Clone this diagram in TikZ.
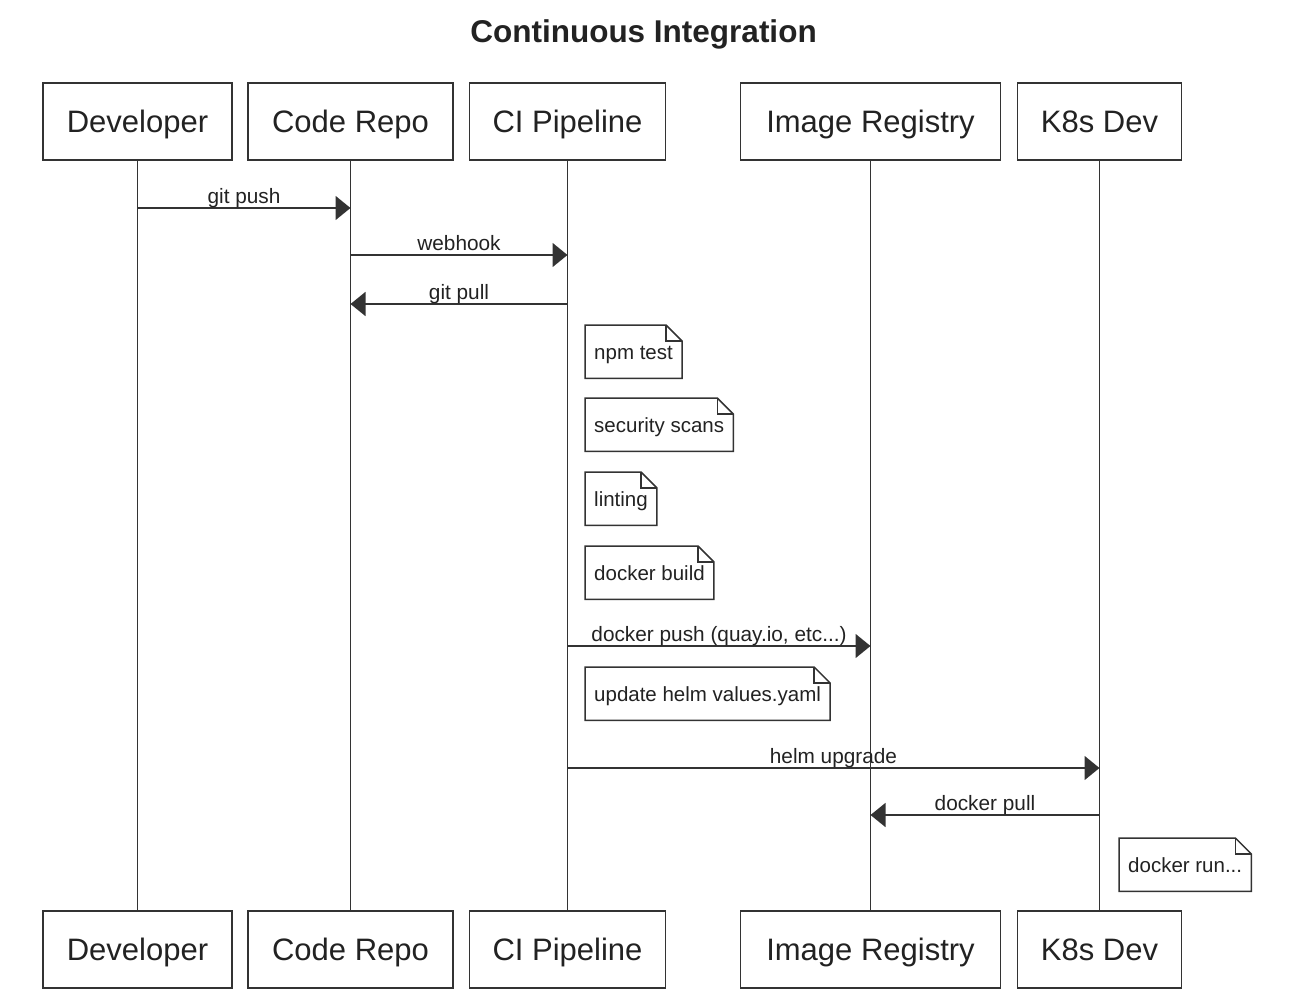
\documentclass[tikz,border=0pt]{standalone}
\usepackage{fontspec}
\setmainfont{Liberation Sans}
\usetikzlibrary{arrows.meta,calc}
\definecolor{ln}{HTML}{333333}
\definecolor{tx}{HTML}{222222}
\tikzset{
  actor/.style={draw=ln, line width=1.5pt, fill=white, minimum height=77pt, inner sep=0pt,
    font=\fontsize{31}{36}\selectfont, text=tx, text height=24pt, text depth=3pt},
  life/.style={draw=ln, line width=1.5pt},
  msg/.style={draw=ln, line width=1.5pt, -{Triangle[length=15pt,width=24pt]}},
  msglabel/.style={font=\fontsize{20.8}{24}\selectfont, text=tx, anchor=base, inner sep=0pt},
  notebox/.style={font=\fontsize{20.5}{24}\selectfont, text=tx, inner xsep=9pt, inner ysep=0pt,
    minimum height=53pt, text height=17pt, text depth=2pt, anchor=north west},
  noteline/.style={draw=ln, line width=1.5pt, line join=miter},
}
\newcommand{\mknote}[4]{%
  \node[notebox] (#1) at (#2,#3) {#4};
  \draw[noteline] (#1.north west) -- ($(#1.north east)+(-16,0)$) -- ($(#1.north east)+(0,16)$)
    -- (#1.south east) -- (#1.south west) -- cycle;
  \draw[noteline] ($(#1.north east)+(-16,0)$) -- ($(#1.north east)+(-16,16)$) -- ($(#1.north east)+(0,16)$);
}
\begin{document}
\begin{tikzpicture}[x=1pt,y=-1pt]
\useasboundingbox (0,0) rectangle (1290,1006);

\node[font=\bfseries\fontsize{31.5}{36}\selectfont, text=tx, anchor=base, inner sep=0pt] (title) at (643.5,43) {Continuous Integration};

% heads
\node[actor, minimum width=189pt] (devH) at (137.5,121.5) {Developer};
\node[actor, minimum width=205pt] (repoH) at (350.5,121.5) {Code Repo};
\node[actor, minimum width=196pt] (ciH) at (567.5,121.5) {CI Pipeline};
\node[actor, minimum width=260pt] (regH) at (870.5,121.5) {Image Registry};
\node[actor, minimum width=164pt] (k8sH) at (1099.5,121.5) {K8s Dev};
% feet
\node[actor, minimum width=189pt] (devF) at (137.5,949.5) {Developer};
\node[actor, minimum width=205pt] (repoF) at (350.5,949.5) {Code Repo};
\node[actor, minimum width=196pt] (ciF) at (567.5,949.5) {CI Pipeline};
\node[actor, minimum width=260pt] (regF) at (870.5,949.5) {Image Registry};
\node[actor, minimum width=164pt] (k8sF) at (1099.5,949.5) {K8s Dev};

% lifelines
\draw[life] (devH.south) -- (devF.north);
\draw[life] (repoH.south) -- (repoF.north);
\draw[life] (ciH.south) -- (ciF.north);
\draw[life] (regH.south) -- (regF.north);
\draw[life] (k8sH.south) -- (k8sF.north);

% messages
\coordinate (m1a) at (devH |- 0,208);  \coordinate (m1b) at (repoH |- 0,208);
\draw[msg] (m1a) -- (m1b) node[msglabel, pos=0.5, yshift=5pt] (l1) {git push};

\coordinate (m2a) at (repoH |- 0,255); \coordinate (m2b) at (ciH |- 0,255);
\draw[msg] (m2a) -- (m2b) node[msglabel, pos=0.5, yshift=5pt] (l2) {webhook};

\coordinate (m3a) at (ciH |- 0,304); \coordinate (m3b) at (repoH |- 0,304);
\draw[msg] (m3a) -- (m3b) node[msglabel, pos=0.5, yshift=5pt] (l3) {git pull};

% notes
\mknote{n1}{585}{325}{npm test}
\mknote{n2}{585}{398}{security scans}
\mknote{n3}{585}{472}{linting}
\mknote{n4}{585}{546}{docker build}

\coordinate (m4a) at (ciH |- 0,646); \coordinate (m4b) at (regH |- 0,646);
\draw[msg] (m4a) -- (m4b) node[msglabel, pos=0.5, yshift=5pt] (l4) {docker push (quay.io, etc...)};

\mknote{n5}{585}{667}{update helm values.yaml}

\coordinate (m5a) at (ciH |- 0,768); \coordinate (m5b) at (k8sH |- 0,768);
\draw[msg] (m5a) -- (m5b) node[msglabel, pos=0.5, yshift=5pt] (l5) {helm upgrade};

\coordinate (m6a) at (k8sH |- 0,815); \coordinate (m6b) at (regH |- 0,815);
\draw[msg] (m6a) -- (m6b) node[msglabel, pos=0.5, yshift=5pt] (l6) {docker pull};

\mknote{n6}{1119}{838}{docker run...}
\end{tikzpicture}
\end{document}
